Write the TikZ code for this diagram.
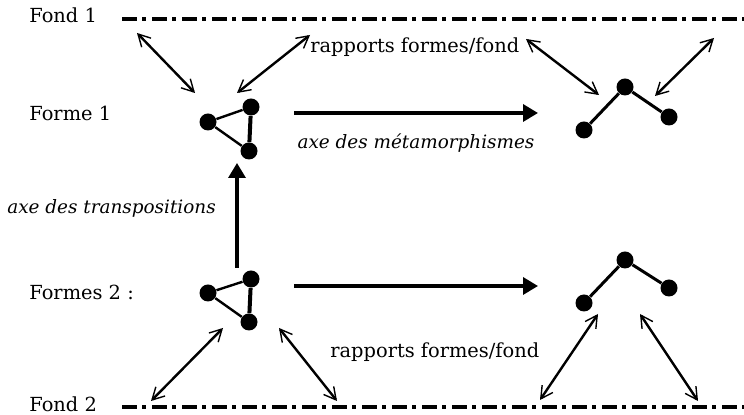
\documentclass[tikz,border=0pt]{standalone}
\usepackage{fontspec}
\setmainfont{DejaVu Serif}
\usetikzlibrary{arrows.meta, positioning}

\begin{document}
\begin{tikzpicture}[
    x=0.5pt, y=-0.5pt,
    label/.style={inner sep=0pt, anchor=west, font=\fontsize{9.7}{12}\selectfont},
    axis/.style={inner sep=0pt, font=\fontsize{9.2}{11}\selectfont\itshape},
    dot/.style={circle, fill=black, inner sep=0pt, minimum size=8.5pt},
    fond/.style={line width=2pt, dash pattern=on 7.5pt off 2.5pt on 2pt off 3pt},
    move/.style={-{Triangle[length=7.5pt, width=8.5pt]}, line width=1.7pt},
    rel/.style={{Straight Barb[length=6pt, width=6.5pt, line width=0.7pt]}-{Straight Barb[length=6pt, width=6.5pt, line width=0.7pt]}, line width=1.2pt}
]
    \useasboundingbox (0,0) rectangle (744,415);

    % labels on the left
    \node[label] (fond1) at (29,15) {Fond 1};
    \node[label] (forme1) at (29,113) {Forme 1};
    \node[label] (formes2) at (29,292) {Formes 2 :};
    \node[label] (fond2) at (29,404) {Fond 2};

    % the two grounds
    \coordinate (f1a) at (122,19);
    \coordinate (f1b) at (744,19);
    \coordinate (f2a) at (122,407);
    \coordinate (f2b) at (744,407);
    \draw[fond] (f1a) -- (f1b);
    \draw[fond] (f2a) -- (f2b);

    % form 1: triangle and open chain
    \node[dot] (ta1) at (208,122) {};
    \node[dot] (tb1) at (251,107) {};
    \node[dot] (tc1) at (249,151) {};
    \draw[line width=1.2pt] (ta1) -- (tb1);
    \draw[line width=1.2pt] (ta1) -- (tc1);
    \draw[line width=2pt] (tb1) -- (tc1);

    \node[dot] (ca1) at (584,130) {};
    \node[dot] (cb1) at (625,87) {};
    \node[dot] (cc1) at (669,117) {};
    \draw[line width=1.5pt] (ca1) -- (cb1) -- (cc1);

    % forms 2
    \node[dot] (ta2) at (208,293) {};
    \node[dot] (tb2) at (251,279) {};
    \node[dot] (tc2) at (249,322) {};
    \draw[line width=1.2pt] (ta2) -- (tb2);
    \draw[line width=1.2pt] (ta2) -- (tc2);
    \draw[line width=2pt] (tb2) -- (tc2);

    \node[dot] (ca2) at (584,303) {};
    \node[dot] (cb2) at (625,260) {};
    \node[dot] (cc2) at (669,288) {};
    \draw[line width=1.5pt] (ca2) -- (cb2) -- (cc2);

    % axes
    \coordinate (m1a) at (294,113);
    \coordinate (m1b) at (538,113);
    \coordinate (m2a) at (294,286);
    \coordinate (m2b) at (538,286);
    \coordinate (ta) at (237,268);
    \coordinate (tb) at (237,163);
    \draw[move] (m1a) -- (m1b);
    \draw[move] (m2a) -- (m2b);
    \draw[move] (ta) -- (tb);
    \node[axis] (metam) at (416,143) {axe des métamorphismes};
    \node[axis, anchor=west] (transp) at (7,208) {axe des transpositions};

    % relations forms / ground
    \node[label] (rap1) at (310,47) {rapports formes/fond};
    \node[label] (rap2) at (330,352) {rapports formes/fond};

    \coordinate (r1a) at (137,33);  \coordinate (r1b) at (195,93);
    \coordinate (r2a) at (310,35);  \coordinate (r2b) at (237,93);
    \coordinate (r3a) at (526,39);  \coordinate (r3b) at (599,95);
    \coordinate (r4a) at (714,38);  \coordinate (r4b) at (655,96);
    \coordinate (r5a) at (223,328); \coordinate (r5b) at (151,401);
    \coordinate (r6a) at (279,328); \coordinate (r6b) at (337,401);
    \coordinate (r7a) at (598,314); \coordinate (r7b) at (540,400);
    \coordinate (r8a) at (640,314); \coordinate (r8b) at (698,401);
    \foreach \i in {1,...,8}
        \draw[rel] (r\i a) -- (r\i b);
\end{tikzpicture}
\end{document}
